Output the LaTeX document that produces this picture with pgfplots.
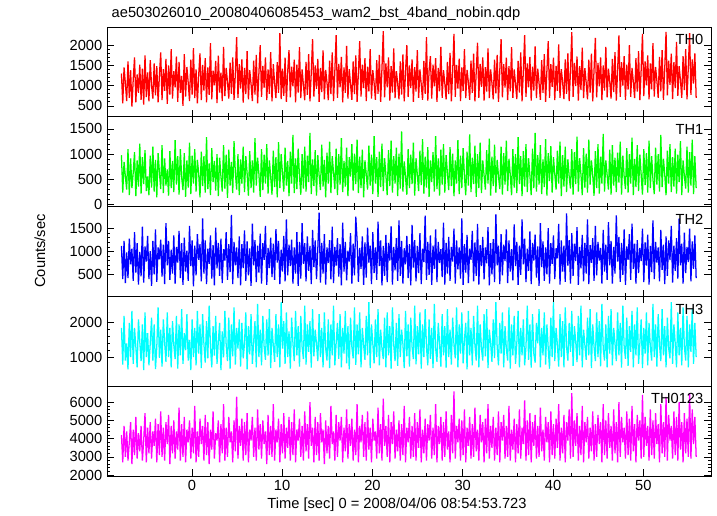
\documentclass[border=0pt]{standalone}
\usepackage{fontspec}
\setmainfont{Liberation Sans}
\usepackage{pgfplots}
\usepackage{pgfplotstable}
\pgfplotsset{compat=1.18}
\definecolor{cR}{RGB}{255,0,0}
\definecolor{cG}{RGB}{0,255,0}
\definecolor{cB}{RGB}{0,0,255}
\definecolor{cC}{RGB}{0,255,255}
\definecolor{cM}{RGB}{255,0,255}
\pgfplotstableread{
th0 th1 th2 th3 th4
1300 980 1120 1850 4200
560 240 400 780 2700
1450 850 1230 2200 4700
1050 560 310 900 3000
620 300 980 1400 4400
1600 1100 420 640 2800
700 190 1280 2000 3800
1380 920 720 1000 4900
480 330 1060 2350 2600
1150 640 360 800 4500
1700 1040 1420 1850 3100
590 170 540 1300 5200
1280 880 1180 700 2900
820 360 280 2100 4300
1520 1210 990 1450 3300
650 220 460 880 4700
1420 940 1540 1950 2800
530 410 320 620 3900
1750 1080 1110 2300 5400
720 270 780 1000 2700
1330 560 1340 1700 4600
610 190 400 760 3200
1630 970 1010 1400 4900
1000 340 250 2150 2900
680 1150 1230 900 4400
1550 260 500 1950 3600
760 890 1480 650 5100
1480 150 340 1300 2700
590 1020 1090 2450 4800
1250 640 830 980 3100
1820 310 1260 1800 5500
640 1180 450 720 3000
1410 230 1150 2100 4600
870 920 290 1420 2800
1660 380 1620 860 4900
550 700 700 2300 3700
1500 180 1230 1000 5300
780 1060 380 1850 2600
1900 330 1040 700 4700
680 870 520 2050 3200
1360 250 1350 1350 5000
960 1280 300 940 2900
1720 400 1100 2200 4400
600 960 760 660 3400
1590 200 1450 1950 5700
820 1100 420 1050 2800
1240 540 1180 2400 4800
500 290 270 800 3000
1780 1020 1300 1700 5200
730 160 560 1200 2700
1460 880 1020 2250 4500
1070 340 360 900 3800
620 1230 1560 1500 5000
1640 210 680 620 2900
780 970 1240 2100 4600
1930 420 240 1000 3200
690 1100 1130 1850 5800
1400 260 480 760 2700
560 890 1380 2350 4400
1260 620 820 1100 3000
1800 150 1160 1950 5100
640 1050 350 680 3700
1510 370 1720 2250 4700
880 960 520 1380 2800
1680 240 1240 840 5300
590 1340 290 2050 3100
1450 310 1060 960 4900
770 820 730 2500 2600
2050 190 1350 1300 4500
660 1120 410 700 3400
1370 450 1140 1900 5500
1010 870 260 1040 2900
1610 280 1520 2200 4300
570 1000 630 800 3900
1740 170 1190 1450 5000
830 930 470 2000 2700
1320 560 1280 620 4800
620 260 310 1750 3200
1960 1180 1050 990 5900
740 320 800 2350 2800
1440 990 1420 1350 4600
1090 140 380 880 3000
680 1090 1160 2150 5200
1570 380 550 660 3800
800 850 1800 1950 4400
1700 230 290 1020 2700
650 1260 1210 2450 5000
1290 640 700 780 3300
2200 300 1090 1850 6300
700 1000 420 1250 2900
1530 190 1330 2100 4700
930 900 260 720 3600
1650 420 1160 2000 5100
580 1150 640 960 2800
1440 250 1460 1400 4900
790 960 360 2300 3100
1850 620 1220 640 5400
660 180 480 1900 2700
1380 1060 1070 1080 4500
1040 330 250 2250 3900
620 880 1610 800 5200
1620 240 700 1450 3000
780 1320 1250 2050 4600
1760 380 330 700 2800
560 930 1130 2550 5600
1310 610 540 1000 3400
2000 160 1390 1800 4800
720 1100 300 760 2900
1490 290 1180 2200 5000
950 990 820 1300 3700
1700 420 1560 920 4400
640 1200 270 2100 2600
1400 220 1080 1040 5300
800 880 640 2400 3100
1830 550 1300 680 4700
610 200 440 1850 3000
1530 1070 1170 1350 5900
1060 350 380 860 2800
690 940 1490 2250 4500
1580 150 760 1000 3800
820 1240 1230 1950 5100
2300 330 290 700 2700
670 1000 1040 2600 4800
1420 620 560 1250 3200
750 260 1340 2050 5400
1690 1130 350 800 2900
600 380 1700 2300 4600
1350 870 480 1000 3500
1880 170 1150 1750 5200
710 1050 680 660 2800
1470 420 1260 2150 4900
980 1380 300 1400 3100
1640 230 1090 880 5600
590 920 520 2350 2700
1520 310 1420 1050 4500
830 1110 250 1900 3900
1950 560 1210 720 5100
690 200 410 2200 3000
1400 1000 1620 1300 4700
1020 320 730 940 2800
640 1150 1180 2500 5500
1590 260 350 780 3300
770 970 1330 1950 4800
1780 450 580 1150 2900
610 1420 1120 2050 6000
1330 210 290 690 3600
2150 900 1470 2400 4600
730 370 660 1020 2700
1500 1080 1240 1800 5200
920 180 400 1380 3100
1660 980 1060 880 4900
600 580 1850 2250 2800
1440 290 320 1000 5400
840 1190 1190 1850 3800
1870 360 520 700 4500
660 890 1380 2300 2600
1390 150 280 1250 5000
1080 1030 1090 900 3200
640 420 750 2100 4700
1620 1250 1250 680 2900
790 230 390 1950 5800
1820 960 1540 1050 3700
620 640 310 2500 4400
1360 310 1100 760 2800
2250 1110 690 1400 5300
700 190 1290 2000 3000
1540 1000 450 950 4900
960 400 1160 2250 3900
1710 1320 260 700 5200
590 250 1630 1850 2700
1450 870 560 1100 4600
820 360 1210 2350 3300
1980 1130 370 820 5600
680 170 1020 1900 2900
1410 940 780 640 4800
1030 560 1400 2150 3600
650 1200 300 1300 5100
1600 280 1170 960 2800
790 1010 480 2450 4500
1750 410 1760 770 3100
600 1290 1250 1950 5900
1320 230 340 1080 2700
2100 950 1080 2300 4700
730 330 620 700 3800
1520 1090 1330 1850 5300
940 150 270 1350 3000
1680 880 1200 920 4900
620 600 430 2200 2800
1470 300 1520 1050 5500
860 1170 760 2600 3400
1900 380 1130 680 4600
680 990 290 1950 2700
1380 210 1420 1400 5100
1070 1360 530 820 3900
650 420 1090 2100 4400
1630 940 380 1000 2900
800 160 1650 2400 5700
1760 1050 680 760 3200
600 350 1240 1800 4800
1430 1210 260 1250 2800
2350 270 1120 940 6200
710 920 470 2150 3600
1550 590 1360 700 4700
960 190 330 2300 3000
1700 1080 1190 1050 5300
630 370 800 1900 2700
1480 1270 1550 660 4900
830 240 280 2450 3700
1920 960 1100 1350 5500
690 420 590 880 2900
1360 1130 1290 2000 4500
1050 170 360 740 3300
660 1010 1680 2250 5000
1600 320 470 1000 2800
780 1450 1230 1800 4800
1770 260 300 1380 3100
610 860 1070 680 5800
1340 550 720 2350 2700
2000 200 1340 1020 4600
720 1100 420 1950 3800
1500 330 1160 720 5200
940 990 260 2150 2900
1650 410 1580 1300 4700
600 1230 650 940 3000
1460 180 1250 2500 5400
850 920 350 790 2800
1880 600 1120 1900 4900
700 270 530 1080 3500
1400 1070 1400 2300 5600
1030 390 290 660 2700
650 1300 1060 1950 4500
1610 220 770 1000 3200
800 950 1780 2400 5100
2200 340 380 1300 2800
630 1140 1210 760 4800
1370 160 490 2100 3900
1730 880 1350 950 5300
680 450 270 1850 2900
1520 1040 1130 680 4600
980 260 620 2550 3100
1680 1360 1480 1250 5900
600 310 330 860 2700
1440 920 1210 2000 4700
860 180 750 1400 3700
1960 1090 1050 720 5200
700 400 440 2250 2800
1380 1200 1630 1050 4900
1060 240 280 1900 3000
660 980 1190 690 5500
1590 620 520 2400 3400
790 290 1320 1000 4400
1810 1140 360 1800 2700
610 370 1100 780 5300
1350 1010 780 2150 3200
2280 170 1500 1350 6600
720 880 300 960 2900
1510 420 1240 2450 4700
930 1280 610 700 3800
1670 210 1090 1950 5100
620 970 410 1100 2800
1450 330 1720 2300 5000
870 1120 270 820 3100
1900 560 1160 1500 5600
690 190 540 2000 2700
1390 1050 1360 640 4600
1080 380 310 2350 3600
650 1390 1060 1050 5200
1620 250 820 1850 2900
820 930 1450 760 4800
1790 410 350 2200 3000
610 1170 1200 1350 5700
1340 160 470 900 3300
2060 1000 1600 2500 4500
700 330 280 700 2800
1540 1230 1140 1950 5300
970 230 680 1250 3800
1700 880 1320 900 4900
630 580 390 2250 2700
1460 300 1090 1020 5100
850 1080 740 2400 3200
1920 420 1530 680 5900
690 1310 260 1800 2900
1400 180 1180 1400 4700
1070 950 500 860 3500
660 370 1270 2100 5200
1640 1190 330 970 2800
810 240 1810 2600 4600
1760 890 700 1300 3100
600 570 1130 760 5500
1370 310 290 2000 2700
2150 1150 1380 1100 4900
710 200 480 2300 3900
1530 1020 1150 700 5300
950 400 790 1900 2900
1690 1270 1480 1250 4700
640 270 310 900 3000
1480 910 1240 2450 5800
860 600 560 660 2800
1950 190 1050 1950 4500
700 1100 370 1050 3400
1400 340 1590 2200 5100
1040 1000 680 800 2700
670 230 1210 1400 4800
1610 1340 270 2350 3200
830 410 1130 700 5600
1820 960 490 1850 2900
610 170 1700 1050 4600
1360 1060 720 2100 3700
2250 360 1280 760 6100
720 1200 330 1300 2800
1550 250 1060 2500 5000
960 920 580 920 3100
1710 580 1440 1950 5400
630 190 290 690 2700
1470 1110 1190 2250 4900
880 330 800 1100 3600
1970 1420 1370 840 5300
690 260 430 2000 2900
1420 980 1110 1400 4700
1060 400 250 2400 3000
650 1180 1620 700 5700
1630 210 660 1850 3300
820 900 1220 1050 4500
1780 350 360 2300 2800
600 1300 1090 780 5200
1380 180 500 1950 3800
2100 1020 1510 1250 4900
700 470 300 660 2700
1530 1160 1180 2150 5500
970 240 730 1000 3100
1690 940 1350 2600 4800
640 610 400 880 2900
1490 300 1070 1850 5100
870 1070 850 1350 3500
2020 420 1600 720 5900
700 1250 280 2250 2800
1410 170 1240 1000 4600
1080 980 560 2050 3200
670 360 1130 700 5300
1650 1150 340 2450 2700
800 250 1830 1300 4900
1800 900 690 900 3900
620 560 1250 2000 5600
1360 320 300 1150 2900
2320 1100 1400 2350 6500
720 200 470 740 3000
1560 1040 1170 1900 5000
990 410 790 1450 3600
1720 1350 1530 850 5400
630 260 270 2200 2800
1480 920 1100 1050 4700
890 600 630 2500 3100
1940 190 1360 700 5800
690 1120 350 1800 2700
1430 340 1190 1350 4900
1070 1010 520 920 3800
660 240 1700 2150 5200
1640 1290 290 1050 2900
830 400 1140 2400 4600
1790 880 750 680 3300
610 580 1290 1950 5500
1390 180 360 1300 2800
2180 1060 1560 880 4800
710 330 480 2300 3000
1560 1200 1210 1000 5300
980 220 800 2050 3700
1700 950 1080 730 4900
640 420 300 2550 2700
1500 1400 1470 1250 5900
880 260 560 900 3100
1960 880 1150 1950 5000
710 590 380 700 2900
1420 300 1640 2200 5400
1090 1090 700 1100 3500
680 200 1230 2400 4700
1660 1180 300 760 2800
840 380 1100 1850 5600
1830 930 520 1400 3200
630 250 1790 880 4900
1370 1030 780 2300 2700
2240 440 1320 1050 6000
720 1250 340 2000 3000
1580 200 1190 690 5200
1000 970 490 2500 3800
1730 560 1480 1300 4600
650 310 270 950 2900
1520 1120 1110 2150 5500
900 240 820 740 3100
2000 1000 1380 1900 5100
720 420 380 1150 2800
1440 1330 1610 2350 5800
1100 190 620 700 3300
690 910 1170 1950 4800
1680 350 300 1050 2700
850 1180 1250 2450 5300
1850 270 530 800 3900
640 990 1080 1400 5000
1400 590 790 2100 2900
2280 200 1500 680 6400
740 1100 330 1850 3000
1600 390 1200 1100 5200
1010 1020 690 2300 3600
1750 240 1370 760 4700
660 1270 280 2000 2800
1550 330 1120 1300 5600
910 960 550 900 3100
2050 500 1680 2550 5000
730 210 400 1000 2900
1460 1130 1210 1950 5400
1120 400 760 720 3700
700 1000 1090 2250 4800
1710 260 350 1350 2700
860 1380 1470 880 5900
1880 350 600 2400 3200
650 910 1150 1050 4900
1420 600 290 1900 3000
2330 190 1330 700 6300
760 1070 470 2150 2800
1620 420 1240 1250 5300
1020 1200 810 960 3900
1790 250 1560 2600 4700
670 940 320 800 2900
1580 360 1130 1950 5500
940 1110 580 1400 3100
2080 220 1290 700 5200
750 990 410 2300 2800
1480 450 1720 1050 6000
1130 1260 700 1850 3400
700 190 1170 760 4900
1730 880 300 2450 2700
890 570 1410 1300 5400
1900 320 530 900 3200
660 1150 1100 2200 5100
1450 240 770 700 3000
2300 1040 1500 1950 6500
770 380 350 1150 2900
1650 1290 1220 2400 5600
1050 210 620 800 3700
1800 960 1350 2000 5200
700 330 420 1000 3000
}\lc
\pgfplotsset{
  panel/.style={
    scale only axis, width=453pt, height=67.35pt, anchor=north west,
    xmin=-9.4, xmax=57.5, xtick={0,10,...,50}, minor x tick num=4,
    minor y tick num=4,
    tick align=inside, major tick length=5pt, minor tick length=2.5pt,
    tick style={black, line width=0.5pt},
    axis line style={black, line width=0.7pt},
    xticklabels={},
    tick label style={font=\fontsize{11}{13}\selectfont},
    /pgf/number format/assume math mode=true,
    /pgf/number format/1000 sep={},
    scaled y ticks=false,
    every axis plot/.append style={line width=0.95pt, line join=bevel},
  }
}
\begin{document}
\begin{tikzpicture}
\useasboundingbox (-80.25pt,20.25pt) rectangle (457.5pt,-366.75pt);
\begin{axis}[panel, at={(0pt,0pt)}, ymin=230, ymax=2450, ytick={500,1000,1500,2000}]
\addplot[cR] table[x expr=\coordindex*0.145-7.8, y=th0] {\lc};
\node[anchor=north east, font=\fontsize{11}{13}\selectfont] at (rel axis cs:0.995,0.97) {TH0};
\end{axis}
\begin{axis}[panel, at={(0pt,-67.35pt)}, ymin=-35, ymax=1740, ytick={0,500,1000,1500}]
\addplot[cG] table[x expr=\coordindex*0.145-7.8, y=th1] {\lc};
\node[anchor=north east, font=\fontsize{11}{13}\selectfont] at (rel axis cs:0.995,0.97) {TH1};
\end{axis}
\begin{axis}[panel, at={(0pt,-134.7pt)}, ymin=20, ymax=1980, ytick={500,1000,1500}]
\addplot[cB] table[x expr=\coordindex*0.145-7.8, y=th2] {\lc};
\node[anchor=north east, font=\fontsize{11}{13}\selectfont] at (rel axis cs:0.995,0.97) {TH2};
\end{axis}
\begin{axis}[panel, at={(0pt,-202.05pt)}, ymin=150, ymax=2770, ytick={1000,2000}]
\addplot[cC] table[x expr=\coordindex*0.145-7.8, y=th3] {\lc};
\node[anchor=north east, font=\fontsize{11}{13}\selectfont] at (rel axis cs:0.995,0.97) {TH3};
\end{axis}
\begin{axis}[panel, at={(0pt,-269.4pt)}, ymin=1950, ymax=6880, ytick={2000,3000,4000,5000,6000},
  xticklabels={0,10,20,30,40,50}]
\addplot[cM] table[x expr=\coordindex*0.145-7.8, y=th4] {\lc};
\node[anchor=north east, font=\fontsize{11}{13}\selectfont] at (rel axis cs:0.995,0.97) {TH0123};
\end{axis}
\node[anchor=base west, font=\fontsize{11}{13}\selectfont] at (0pt,6.75pt) {ae503026010\_20080406085453\_wam2\_bst\_4band\_nobin.qdp};
\node[rotate=90, font=\fontsize{11}{13}\selectfont] at (-50.25pt,-168pt) {Counts/sec};
\node[font=\fontsize{11}{13}\selectfont] at (217.5pt,-358.5pt) {Time [sec] 0 = 2008/04/06 08:54:53.723};
\end{tikzpicture}
\end{document}
